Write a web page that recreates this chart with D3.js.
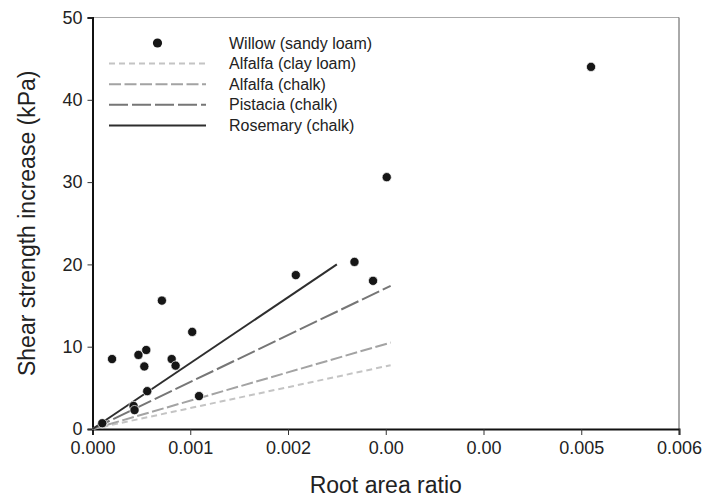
<!DOCTYPE html>
<html>
<head>
<meta charset="utf-8">
<script src="https://cdn.jsdelivr.net/npm/d3@7"></script>
<style>
  body { margin: 0; background: #fff; }
  svg { font-family: "Liberation Sans", Arial, sans-serif; }
</style>
</head>
<body>
<div id="chart"></div>
<script>
// willow points: root area ratio vs shear strength increase (kPa)
const willowRAR = [0.0001, 0.0002, 0.00042, 0.00043, 0.00047, 0.00053, 0.00055, 0.00056,
    0.00071, 0.00081, 0.00085, 0.00102, 0.00109, 0.00208, 0.00268, 0.00287, 0.00301, 0.0051];
const willowShear = [0.7, 8.5, 2.8, 2.3, 9.0, 7.6, 9.6, 4.6,
    15.6, 8.5, 7.7, 11.8, 4.0, 18.7, 20.3, 18.0, 30.6, 44.0];

// fitted lines, each from the origin to an end point
const lineNames = ["Alfalfa (clay loam)", "Alfalfa (chalk)", "Pistacia (chalk)", "Rosemary (chalk)"];
const lineEndX = [0.00305, 0.00305, 0.00305, 0.0025];
const lineEndY = [7.75, 10.5, 17.4, 20.0];

const xTicks = [0, 0.001, 0.002, 0.003, 0.004, 0.005, 0.006];
const xTickLabels = ["0.000", "0.001", "0.002", "0.00", "0.00", "0.005", "0.006"];
const yTicks = [0, 10, 20, 30, 40, 50];

const lineStyles = [
    {color: "#c4c4c4", dash: "6,4", width: 2},
    {color: "#a3a3a3", dash: "12,3.5", width: 2},
    {color: "#767676", dash: "19,4", width: 2},
    {color: "#2e2e2e", dash: null, width: 2}
];

let margin = {top: 17.5, right: 27, bottom: 70, left: 92.5};
let width = 706 - margin.left - margin.right;
let height = 499 - margin.top - margin.bottom;

let svg = d3.select("#chart").append("svg")
    .attr("width", 706)
    .attr("height", 499)
    .append("g")
    .attr("transform", `translate(${margin.left}, ${margin.top})`);

let x = d3.scaleLinear().domain([0, 0.006]).range([0, width]);
let y = d3.scaleLinear().domain([0, 50]).range([height, 0]);

// top and right frame
svg.append("line")
    .attr("x1", 0).attr("x2", width).attr("y1", 0).attr("y2", 0)
    .attr("stroke", "#aaa").attr("stroke-width", 1);
svg.append("line")
    .attr("x1", width).attr("x2", width).attr("y1", 0).attr("y2", height)
    .attr("stroke", "#555").attr("stroke-width", 1);

// axes
let xAxis = svg.append("g")
    .attr("transform", `translate(0, ${height})`)
    .call(d3.axisBottom(x).tickValues(xTicks)
        .tickFormat((d, i) => xTickLabels[i])
        .tickSize(6).tickPadding(6));
let yAxis = svg.append("g")
    .call(d3.axisLeft(y).tickValues(yTicks).tickSize(5).tickPadding(5));

[xAxis, yAxis].forEach(a => {
    a.select(".domain").attr("stroke", "#111").attr("stroke-width", 2);
    a.selectAll(".tick line").attr("stroke", "#333");
    a.selectAll(".tick text")
        .attr("fill", "#222")
        .style("font-size", "18px")
        .style("font-family", "'Liberation Sans', Arial, sans-serif");
});

// lines
lineNames.forEach((name, i) => {
    svg.append("line")
        .attr("x1", x(0)).attr("y1", y(0))
        .attr("x2", x(lineEndX[i])).attr("y2", y(lineEndY[i]))
        .attr("stroke", lineStyles[i].color)
        .attr("stroke-width", lineStyles[i].width)
        .attr("stroke-dasharray", lineStyles[i].dash);
});

// willow points
svg.append("g")
    .selectAll("circle")
    .data(willowRAR)
    .enter()
    .append("circle")
    .attr("cx", d => x(d))
    .attr("cy", (d, i) => y(willowShear[i]))
    .attr("r", 4.6)
    .attr("fill", "#161616")
    .attr("stroke", "#fff")
    .attr("stroke-width", 0.7);

// legend
let legend = svg.append("g")
    .attr("transform", `translate(${109 - margin.left}, ${43 - margin.top})`);
let rowH = 20.6;

legend.append("circle")
    .attr("cx", 48.5).attr("cy", 0).attr("r", 4.6)
    .attr("fill", "#161616");
legend.append("text")
    .attr("x", 120).attr("y", 0)
    .attr("dy", "0.35em")
    .style("font-size", "16px")
    .attr("fill", "#222")
    .text("Willow (sandy loam)");

lineNames.forEach((name, i) => {
    let ly = (i + 1) * rowH;
    legend.append("line")
        .attr("x1", 0).attr("x2", 97)
        .attr("y1", ly).attr("y2", ly)
        .attr("stroke", lineStyles[i].color)
        .attr("stroke-width", lineStyles[i].width)
        .attr("stroke-dasharray", lineStyles[i].dash);
    legend.append("text")
        .attr("x", 120).attr("y", ly)
        .attr("dy", "0.35em")
        .style("font-size", "16px")
        .attr("fill", "#222")
        .text(name);
});

// axis titles
svg.append("text")
    .attr("x", width / 2)
    .attr("y", height + 64)
    .attr("text-anchor", "middle")
    .style("font-size", "23px")
    .attr("fill", "#222")
    .text("Root area ratio");

svg.append("text")
    .attr("transform", `translate(${35 - margin.left}, ${height / 2}) rotate(-90)`)
    .attr("text-anchor", "middle")
    .style("font-size", "23px")
    .attr("fill", "#222")
    .text("Shear strength increase (kPa)");
</script>
</body>
</html>
